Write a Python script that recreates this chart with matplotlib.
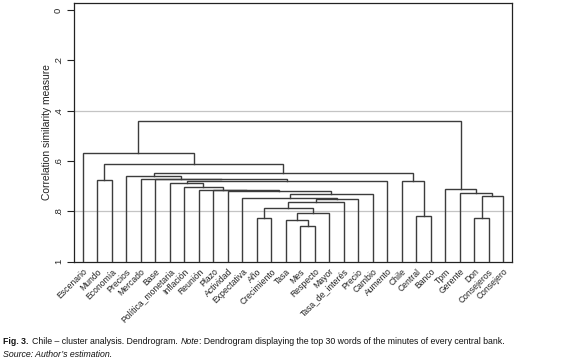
import matplotlib
matplotlib.use("Agg")
import matplotlib.pyplot as plt

# ---- data ----
leaves = ["Escenario", "Mundo", "Economía", "Precios", "Mercado", "Base",
          "Política_monetaria", "Inflación", "Reunión", "Plazo", "Actividad",
          "Expectativa", "Año", "Crecimiento", "Tasa", "Mes", "Respecto",
          "Mayor", "Tasa_de_interés", "Precio", "Cambio", "Aumento", "Chile",
          "Central", "Banco", "Tpm", "Gerente", "Don", "Consejeros", "Consejero"]

# merges: node ids 0..29 are leaves, 30+ are merges in order
merge_left = [15, 14, 12, 27, 23, 31, 32, 36, 37, 11, 33, 39, 26, 10, 9, 8,
              25, 7, 6, 22, 48, 1, 5, 4, 3, 54, 51, 0, 57]
merge_right = [16, 30, 13, 28, 24, 17, 35, 18, 19, 38, 29, 20, 40, 41, 43, 44,
               42, 45, 47, 34, 21, 2, 50, 52, 53, 49, 55, 56, 46]
merge_height = [0.858, 0.834, 0.826, 0.826, 0.818, 0.808, 0.786, 0.762, 0.750,
                0.746, 0.738, 0.730, 0.726, 0.720, 0.717, 0.714, 0.710, 0.704,
                0.686, 0.681, 0.678, 0.674, 0.673, 0.671, 0.659, 0.647, 0.611,
                0.567, 0.440]

yticks = [0, 0.2, 0.4, 0.6, 0.8, 1.0]
ytick_labels = ["0", ".2", ".4", ".6", ".8", "1"]
grid_levels = [0.4, 0.8]

# ---- figure ----
W, H = 568, 361
fig = plt.figure(figsize=(W / 100, H / 100), dpi=100)
ax = fig.add_axes([74 / W, 1 - 261.5 / H, (512 - 74) / W, (261.5 - 2.7) / H])

line_col = "#3c3c3c"
n = len(leaves)
xpos = {i: i + 1 for i in range(n)}
ypos = {i: 1.0 for i in range(n)}
for k, (a, b, h) in enumerate(zip(merge_left, merge_right, merge_height)):
    node = n + k
    xa, xb = xpos[a], xpos[b]
    ax.plot([xa, xa, xb, xb], [ypos[a], h, h, ypos[b]], color=line_col,
            lw=1.0, solid_joinstyle="miter", zorder=3)
    xpos[node] = (xa + xb) / 2
    ypos[node] = h

for g in grid_levels:
    ax.axhline(g, color="#c4c4c4", lw=0.9, zorder=1)

ax.set_xlim(0.4, 30.6)
ax.set_ylim(1.0, -0.03)

ax.set_yticks(yticks)
ax.set_yticklabels(ytick_labels, rotation=90, va="center",
                   family="Liberation Sans", fontsize=6.8, color="#222222")
ax.tick_params(axis="y", length=5, width=0.8, pad=3, color="#222222")

ax.set_xticks(range(1, n + 1))
ax.set_xticklabels(leaves, rotation=45, ha="right", rotation_mode="anchor",
                   family="Liberation Sans", fontsize=6.2, color="#222222")
ax.tick_params(axis="x", length=0, pad=4)

for s in ax.spines.values():
    s.set_linewidth(0.9)
    s.set_color("#222222")

ax.set_ylabel("Correlation similarity measure", family="Liberation Sans",
              fontsize=7.4, color="#222222", labelpad=1)

# caption
cap_y1 = 1 - 341.5 / H
cap_y2 = 1 - 354.5 / H
fs = 6.3
x0 = 3 / W
t1 = fig.text(x0, cap_y1, "Fig. 3.", fontsize=fs, fontweight="bold",
              family="Liberation Sans", va="center", color="#111111")
fig.canvas.draw()
r = fig.canvas.get_renderer()
bb = t1.get_window_extent(r)
x1 = (bb.x1 + 4) / W
t2 = fig.text(x1, cap_y1, "Chile \u2013 cluster analysis. Dendrogram. ",
              fontsize=fs, family="Liberation Sans", va="center", color="#111111")
bb = t2.get_window_extent(r)
t3 = fig.text(bb.x1 / W, cap_y1, "Note", fontsize=fs, style="italic",
              family="Liberation Sans", va="center", color="#111111")
bb = t3.get_window_extent(r)
fig.text(bb.x1 / W, cap_y1,
         ": Dendrogram displaying the top 30 words of the minutes of every central bank.",
         fontsize=fs, family="Liberation Sans", va="center", color="#111111")
fig.text(x0, cap_y2, "Source: Author\u2019s estimation.", fontsize=fs,
         style="italic", family="Liberation Sans", va="center", color="#111111")

fig.savefig("out.png", dpi=100)
